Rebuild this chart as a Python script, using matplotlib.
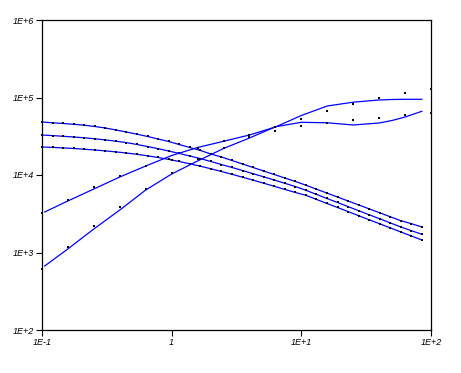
import numpy as np
import matplotlib.pyplot as plt

# sample points of the three falling curves
x_fall = [0.100, 0.1206, 0.1455, 0.1754, 0.2116, 0.2553, 0.3079, 0.3714, 0.4479,
          0.5402, 0.6516, 0.7859, 0.948, 1.143, 1.379, 1.663, 2.006, 2.420, 2.919,
          3.521, 4.246, 5.122, 6.178, 7.451, 8.987, 10.84, 13.08, 15.77, 19.02,
          22.94, 27.67, 33.38, 40.26, 48.56, 58.57, 70.63, 85.2]
fall_a = [48300, 47160, 46190, 45110, 43910, 42260, 40420, 38080, 35880, 33610,
          31390, 29150, 27060, 24750, 22640, 20720, 18660, 17070, 15390, 13870,
          12500, 11260, 10150, 9150, 8250, 7390, 6560, 5840, 5200, 4620, 4115,
          3653, 3253, 2888, 2573, 2353, 2133]
fall_b = [32820, 32250, 31580, 30930, 30200, 29320, 28380, 27300, 26190, 24750,
          23320, 21850, 20400, 19000, 17590, 16280, 14940, 13660, 12500, 11430,
          10390, 9480, 8620, 7815, 7105, 6345, 5620, 4975, 4418, 3912, 3463,
          3065, 2722, 2410, 2133, 1911, 1718]
fall_c = [22980, 22710, 22370, 21980, 21530, 21020, 20460, 19870, 19220, 18500,
          17690, 16820, 15900, 14940, 13950, 12990, 12030, 11100, 10210, 9370,
          8570, 7840, 7150, 6520, 5950, 5473, 4844, 4289, 3808, 3372, 2985,
          2642, 2346, 2077, 1839, 1633, 1450]

# measured points of the two rising curves
x_rise = [0.1, 0.158, 0.251, 0.398, 0.631, 1.0, 1.585, 2.512, 3.981, 6.31,
          10.0, 15.85, 25.12, 39.81, 63.1, 100.0]
rise_d = [3263, 4760, 7065, 9707, 13190, 15620, 22110, 27470, 32340, 41640,
          53280, 67550, 82450, 98530, 114300, 128700]
rise_e = [607, 1178, 2198, 3866, 6597, 10520, 16090, 22110, 30930, 37290,
          42890, 47300, 51240, 54390, 60000, 63100]

# fitted lines of the rising curves
x_fit = [0.105, 0.158, 0.251, 0.398, 0.631, 1.0, 1.585, 2.512, 3.981, 6.31,
         10.0, 15.85, 25.12, 39.81, 50.0, 63.1, 85.0]
fit_d = [3331, 4618, 6597, 9424, 13070, 17850, 22640, 27220, 32820, 41640,
         58590, 77700, 86990, 92860, 94240, 94800, 94800]
fit_e = [670, 1110, 2011, 3535, 6404, 10300, 15160, 21980, 30030, 41880,
         47860, 47160, 44180, 46880, 50490, 56020, 66370]

x_ticks = [0.1, 1, 10, 100]
x_labels = ['1E-1', '1', '1E+1', '1E+2']
y_ticks = [1e2, 1e3, 1e4, 1e5, 1e6]
y_labels = ['1E+2', '1E+3', '1E+4', '1E+5', '1E+6']

fig = plt.figure(figsize=(4.61, 3.73), dpi=100)
ax = fig.add_axes([42/461, 1 - 330/373, 389/461, 310/373])

blue = '#0000ff'
for y in (fall_a, fall_b, fall_c):
    ax.plot(x_fall, y, '-', color=blue, lw=0.9)
    ax.plot(x_fall, y, 's', color='black', ms=1.8, mew=0, clip_on=False)
for y in (fit_d, fit_e):
    ax.plot(x_fit, y, '-', color=blue, lw=0.9)
for y in (rise_d, rise_e):
    ax.plot(x_rise, y, 's', color='black', ms=1.8, mew=0, clip_on=False)

ax.set_xscale('log')
ax.set_yscale('log')
ax.set_xlim(0.1, 100)
ax.set_ylim(1e2, 1e6)
ax.set_xticks(x_ticks)
ax.set_xticklabels(x_labels)
ax.set_yticks(y_ticks)
ax.set_yticklabels(y_labels)
ax.minorticks_off()
ax.tick_params(direction='out', length=4, width=0.8, pad=1.5, labelsize=6.5)
for lab in ax.get_xticklabels() + ax.get_yticklabels():
    lab.set_fontstyle('italic')
    lab.set_family('Liberation Sans')
for s in ax.spines.values():
    s.set_linewidth(0.9)

fig.savefig('out.png', dpi=100)
